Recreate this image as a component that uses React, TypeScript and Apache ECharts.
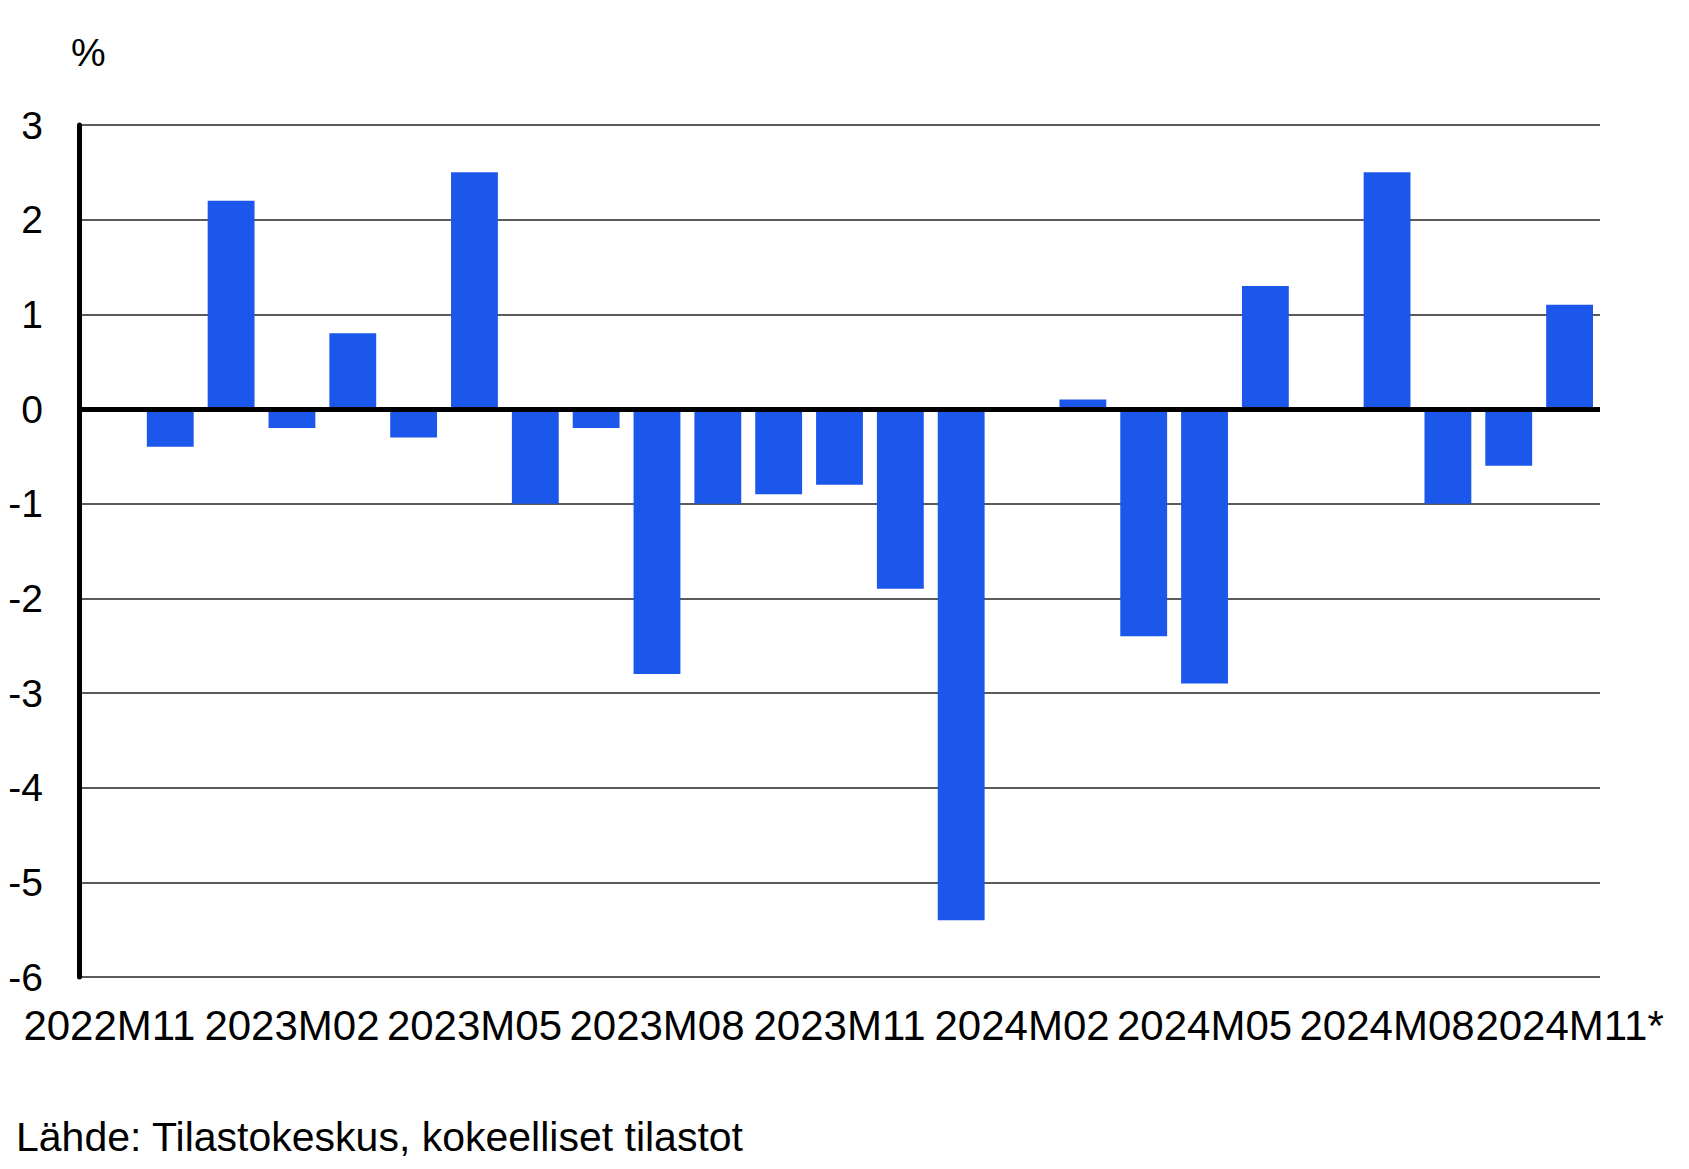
import React, { useEffect, useRef } from "react";
import * as echarts from "echarts";

const categories = [
  "2022M11", "2022M12", "2023M01", "2023M02", "2023M03", "2023M04", "2023M05",
  "2023M06", "2023M07", "2023M08", "2023M09", "2023M10", "2023M11", "2023M12",
  "2024M01", "2024M02", "2024M03", "2024M04", "2024M05", "2024M06", "2024M07",
  "2024M08", "2024M09", "2024M10", "2024M11*",
];
const values = [
  0, -0.4, 2.2, -0.2, 0.8, -0.3, 2.5,
  -1.0, -0.2, -2.8, -1.0, -0.9, -0.8, -1.9,
  -5.4, 0, 0.1, -2.4, -2.9, 1.3, 0,
  2.5, -1.0, -0.6, 1.1,
];
const yMin = -6;
const yMax = 3;
const yInterval = 1;
const unitLabel = "%";
const sourceText = "Lähde: Tilastokeskus, kokeelliset tilastot";

const FONT = "'Liberation Sans', Arial, Helvetica, sans-serif";

export default function App() {
  const ref = useRef<HTMLDivElement>(null);
  useEffect(() => {
    document.body.style.margin = "0";
    if (!ref.current) return;
    const chart = echarts.init(ref.current, null, { renderer: "svg" });
    chart.setOption({
      animation: false,
      backgroundColor: "#ffffff",
      grid: { left: 79, right: 89, top: 125, bottom: 192, containLabel: false },
      xAxis: {
        type: "category",
        data: categories,
        axisLine: { show: false, onZero: false },
        axisTick: { show: false },
        axisLabel: {
          interval: 2,
          color: "#000",
          fontSize: 42,
          fontFamily: FONT,
          margin: 27,
        },
      },
      yAxis: {
        type: "value",
        min: yMin,
        max: yMax,
        interval: yInterval,
        axisLine: { show: true, lineStyle: { color: "#000", width: 5 } },
        axisTick: { show: false },
        axisLabel: {
          color: "#000",
          fontSize: 39,
          fontFamily: FONT,
          margin: 36,
        },
        splitLine: { show: true, lineStyle: { color: "#5a5a5a", width: 2 } },
      },
      series: [
        {
          type: "bar",
          data: values,
          barCategoryGap: "23%",
          itemStyle: { color: "#1b57ea" },
          markLine: {
            silent: true,
            symbol: ["none", "none"],
            label: { show: false },
            lineStyle: { color: "#000", width: 5, type: "solid" },
            data: [{ yAxis: 0 }],
          },
        },
      ],
      graphic: [
        {
          type: "text",
          left: 71,
          top: 33,
          style: { text: unitLabel, fontSize: 39, fontFamily: FONT, fill: "#000" },
        },
        {
          type: "text",
          left: 16,
          top: 1116,
          style: { text: sourceText, fontSize: 41, fontFamily: FONT, fill: "#000" },
        },
      ],
    });
    return () => chart.dispose();
  }, []);
  return <div ref={ref} style={{ width: 1689, height: 1169 }} />;
}
